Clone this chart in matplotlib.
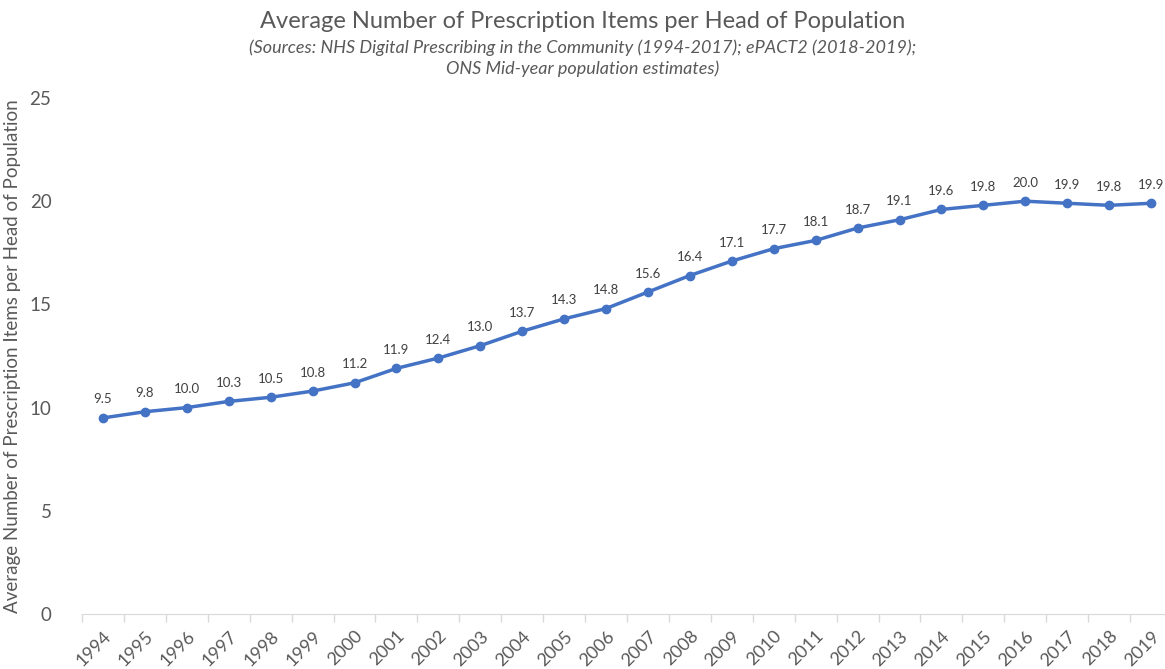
import matplotlib.pyplot as plt

plt.rcParams['font.family'] = ['Lato', 'DejaVu Sans']

years = [str(y) for y in range(1994, 2020)]
items = [9.5, 9.8, 10.0, 10.3, 10.5, 10.8, 11.2, 11.9, 12.4, 13.0, 13.7, 14.3, 14.8,
         15.6, 16.4, 17.1, 17.7, 18.1, 18.7, 19.1, 19.6, 19.8, 20.0, 19.9, 19.8, 19.9]

fig = plt.figure(figsize=(11.65, 6.69), dpi=100)
ax = fig.add_axes([82 / 1165, 55 / 669, 1090 / 1165, 516 / 669])

x = list(range(len(years)))
ax.plot(x, items, color='#4472C4', linewidth=2.5, marker='o', markersize=6, clip_on=False)
for xi, v in zip(x, items):
    ax.annotate(f'{v:.1f}', (xi, v), xytext=(0, 9), textcoords='offset points',
                ha='center', va='bottom', fontsize=9.5, color='#404040')

ax.set_xlim(-0.5, len(years) - 0.5)
ax.set_ylim(0, 25)
ax.set_yticks([0, 5, 10, 15, 20, 25])
ax.set_xticks(x)
ax.set_xticklabels(years, rotation=45, ha='right', rotation_mode='anchor', fontsize=13, color='#595959')
ax.set_xticks([i + 0.5 for i in range(-1, len(years))], minor=True)
ax.tick_params(axis='x', which='major', length=0, pad=10)
ax.tick_params(axis='x', which='minor', length=6, color='#d9d9d9', width=1)
ax.tick_params(axis='y', length=0, labelsize=13.5, labelcolor='#595959', pad=22)

for s in ['top', 'right', 'left']:
    ax.spines[s].set_visible(False)
ax.spines['bottom'].set_color('#d9d9d9')

ax.set_ylabel('Average Number of Prescription Items per Head of Population', fontsize=13.5, color='#595959', labelpad=6)

fig.text(0.5, 0.968, 'Average Number of Prescription Items per Head of Population',
         ha='center', va='center', fontsize=17, color='#595959')
fig.text(0.5, 0.928, '(Sources: NHS Digital Prescribing in the Community (1994-2017); ePACT2 (2018-2019);',
         ha='center', va='center', fontsize=13, style='italic', color='#595959')
fig.text(0.5, 0.897, 'ONS Mid-year population estimates)',
         ha='center', va='center', fontsize=13, style='italic', color='#595959')

fig.savefig('out.png', dpi=100)
